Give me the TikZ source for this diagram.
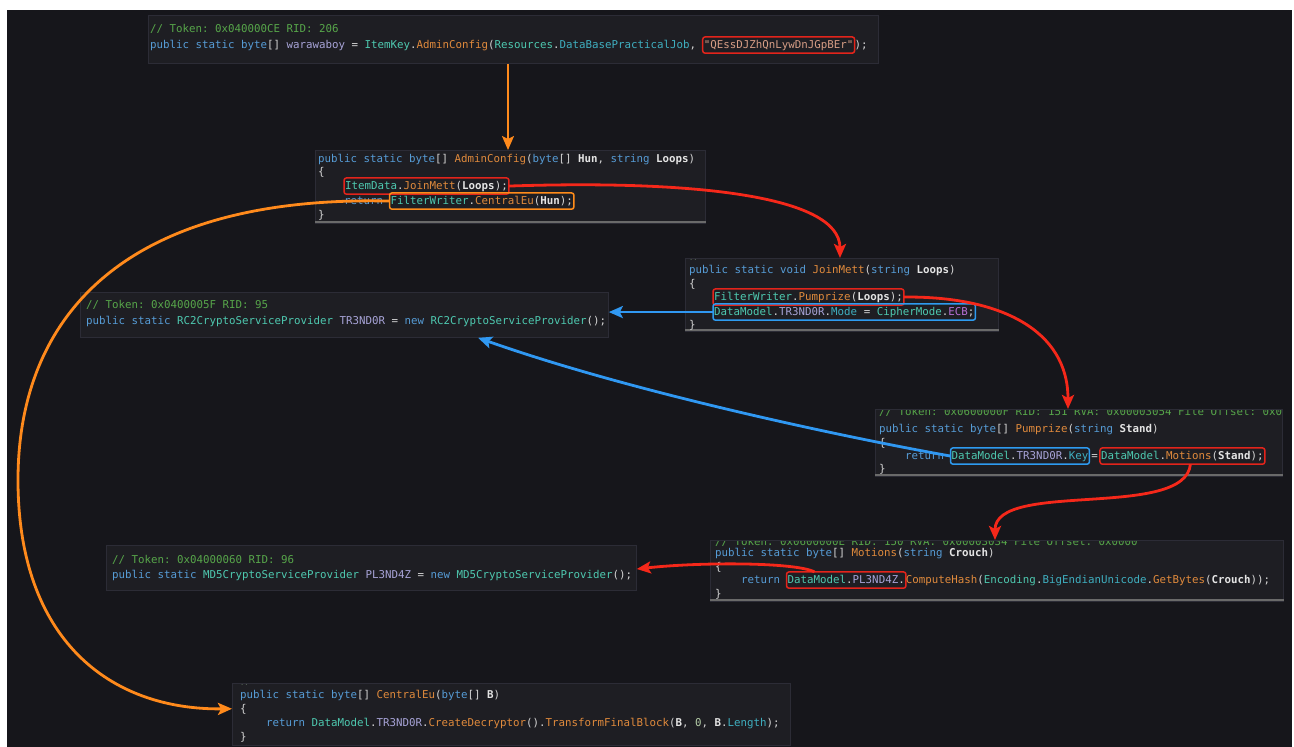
\documentclass[tikz,border=0pt]{standalone}
\usepackage{fontspec}
\usetikzlibrary{arrows.meta}
\newfontfamily\codefont{DejaVu Sans Mono}
\newcommand\cf{\codefont\fontsize{10.8}{13}\selectfont\frenchspacing}
\newcommand\csp{\kern0.602em}
\definecolor{bgc}{HTML}{16161B}
\definecolor{panelc}{HTML}{1E1E23}
\definecolor{panelb}{HTML}{2C2C36}
\definecolor{kw}{HTML}{569CD6}
\definecolor{ty}{HTML}{4EC9B0}
\definecolor{me}{HTML}{E08A3C}
\definecolor{fl}{HTML}{A8A4D8}
\definecolor{pr}{HTML}{3FAFC0}
\definecolor{pa}{HTML}{E4E4E4}
\definecolor{cm}{HTML}{57A64A}
\definecolor{st}{HTML}{D69D85}
\definecolor{nu}{HTML}{B5CEA8}
\definecolor{pu}{HTML}{D4D4D4}
\definecolor{en}{HTML}{B86FD6}
\definecolor{ul}{HTML}{6A6A6A}
\definecolor{dots}{HTML}{5A6A5A}
\definecolor{hlr}{HTML}{E3241B}
\definecolor{hlo}{HTML}{FF8C1A}
\definecolor{hlb}{HTML}{2E9BF0}
\definecolor{arred}{HTML}{F5281A}
\definecolor{arora}{HTML}{FF8A1C}
\definecolor{arblu}{HTML}{3098F2}
\newcommand\ckw[1]{\textcolor{kw}{#1}}
\newcommand\cty[1]{\textcolor{ty}{#1}}
\newcommand\cme[1]{\textcolor{me}{#1}}
\newcommand\cfl[1]{\textcolor{fl}{#1}}
\newcommand\cpr[1]{\textcolor{pr}{#1}}
\newcommand\cpa[1]{\textcolor{pa}{\bfseries #1}}
\newcommand\ccm[1]{\textcolor{cm}{#1}}
\newcommand\cnu[1]{\textcolor{nu}{#1}}
\newcommand\cen[1]{\textcolor{en}{#1}}
\tikzset{
  panel/.style={draw=panelb, fill=panelc, line width=0.8pt, anchor=north west, inner sep=0pt},
  code/.style={anchor=base west, inner sep=0pt, outer sep=0pt, text=pu, font=\cf},
  hl/.style={code, draw, line width=1.5pt, rounded corners=2.5pt, inner xsep=1.2pt, inner ysep=2.8pt, text height=8.3pt, text depth=2.4pt},
  uline/.style={draw=ul, line width=1.6pt},
  con/.style={line width=2.8pt, -{Stealth[length=14pt,width=12pt,inset=3pt]}},
  tinydots/.style={anchor=base west, inner sep=0pt, text=dots, font=\codefont\fontsize{7}{8}\selectfont}
}
\begin{document}
\begin{tikzpicture}[x=1pt,y=-1pt]
\useasboundingbox (0,0) rectangle (1294,747);
\fill[white] (0,0) rectangle (1294,747);
\fill[bgc] (7,10) rectangle (1292,747);

% panels
\node[panel, minimum width=730pt, minimum height=48pt] (p1) at (148,15) {};
\node[panel, minimum width=390pt, minimum height=73pt] (p2) at (315,150) {};
\node[panel, minimum width=313pt, minimum height=73pt] (p3) at (685,258) {};
\node[panel, minimum width=528pt, minimum height=45pt] (p4) at (80,292) {};
\node[panel, minimum width=407pt, minimum height=67pt] (p5) at (875,409) {};
\node[panel, minimum width=530pt, minimum height=45pt] (p6) at (106,545) {};
\node[panel, minimum width=573pt, minimum height=61pt] (p7) at (710,540) {};
\node[panel, minimum width=558pt, minimum height=62pt] (p8) at (232,683) {};

% underlines
\draw[uline] ([yshift=2pt]p2.south west) -- ([yshift=2pt]p2.south east);
\draw[uline] ([yshift=2pt]p3.south west) -- ([yshift=2pt]p3.south east);
\draw[uline] ([yshift=2pt]p5.south west) -- ([yshift=2pt]p5.south east);
\draw[uline] ([yshift=2pt]p7.south west) -- ([yshift=2pt]p7.south east);

% box 1
\node[code] (t1a) at (150,32) {\ccm{// Token: 0x040000CE RID: 206}};
\node[code] (t1b) at (150,48) {\ckw{public static byte}[] \cfl{warawaboy} = \cty{ItemKey}.\cme{AdminConfig}(\cty{Resources}.\cpr{DataBasePracticalJob},\csp};
\node[hl, draw=hlr, text=st] (h1) at (t1b.base east) {"QEssDJZhQnLywDnJGpBEr"};
\node[code] (t1c) at (h1.base east) {);};

% box 2
\node[code] (t2a) at (318,162) {\ckw{public static byte}[] \cme{AdminConfig}(\ckw{byte}[] \cpa{Hun}, \ckw{string} \cpa{Loops})};
\node[code] (t2b) at (318,175) {\{};
\node[hl, draw=hlr] (h2a) at (344,189) {\cty{ItemData}.\cme{JoinMett}(\cpa{Loops});};
\node[code] (t2c) at (344,204) {\ckw{return}\csp};
\node[hl, draw=hlo] (h2b) at (t2c.base east) {\cty{FilterWriter}.\cme{CentralEu}(\cpa{Hun});};
\node[code] (t2d) at (318,218) {\}};

% box 3
\node[tinydots] (d3) at (689,260) {..};
\node[code] (t3a) at (689,273) {\ckw{public static void} \cme{JoinMett}(\ckw{string} \cpa{Loops})};
\node[code] (t3b) at (689,287) {\{};
\node[hl, draw=hlr] (h3a) at (713,300) {\cty{FilterWriter}.\cme{Pumprize}(\cpa{Loops});};
\node[hl, draw=hlb] (h3b) at (713,315) {\cty{DataModel}.\cfl{TR3ND0R}.\cpr{Mode} = \cty{CipherMode}.\cen{ECB};};
\node[code] (t3c) at (689,328) {\}};

% box 4
\node[code] (t4a) at (86,308) {\ccm{// Token: 0x0400005F RID: 95}};
\node[code] (t4b) at (86,324) {\ckw{public static} \cty{RC2CryptoServiceProvider} \cfl{TR3ND0R} = \ckw{new} \cty{RC2CryptoServiceProvider}();};

% box 5
\begin{scope}
\clip (875,410) rectangle (1282,476);
\node[code] (t5z) at (879,415) {\ccm{// Token: 0x0600000F RID: 151 RVA: 0x00003054 File Offset: 0x0}};
\end{scope}
\node[code] (t5a) at (879,432) {\ckw{public static byte}[] \cme{Pumprize}(\ckw{string} \cpa{Stand})};
\node[code] (t5b) at (879,446) {\{};
\node[code] (t5c) at (905,459) {\ckw{return}\csp};
\node[hl, draw=hlb] (h5a) at (t5c.base east) {\cty{DataModel}.\cfl{TR3ND0R}.\cpr{Key}};
\node[code] (t5d) at ([xshift=2pt]h5a.base east) {=};
\node[hl, draw=hlr] (h5b) at ([xshift=2pt]t5d.base east) {\cty{DataModel}.\cme{Motions}(\cpa{Stand});};
\node[code] (t5e) at (879,472) {\}};

% box 6
\node[code] (t6a) at (112,563) {\ccm{// Token: 0x04000060 RID: 96}};
\node[code] (t6b) at (112,578) {\ckw{public static} \cty{MD5CryptoServiceProvider} \cfl{PL3ND4Z} = \ckw{new} \cty{MD5CryptoServiceProvider}();};

% box 7
\begin{scope}
\clip (710,541) rectangle (1283,601);
\node[code] (t7z) at (715,545) {\ccm{// Token: 0x0600000E RID: 150 RVA: 0x00003034 File Offset: 0x0000}};
\end{scope}
\node[code] (t7a) at (715,556) {\ckw{public static byte}[] \cme{Motions}(\ckw{string} \cpa{Crouch})};
\node[code] (t7b) at (715,570) {\{};
\node[code] (t7c) at (741,583) {\ckw{return}\csp};
\node[hl, draw=hlr] (h7a) at (t7c.base east) {\cty{DataModel}.\cfl{PL3ND4Z}.};
\node[code] (t7d) at (h7a.base east) {\cme{ComputeHash}(\cty{Encoding}.\cpr{BigEndianUnicode}.\cme{GetBytes}(\cpa{Crouch}));};
\node[code] (t7e) at (715,597) {\}};

% box 8
\node[tinydots] (d8) at (240,685) {..};
\node[code] (t8a) at (240,698) {\ckw{public static byte}[] \cme{CentralEu}(\ckw{byte}[] \cpa{B})};
\node[code] (t8b) at (240,712) {\{};
\node[code] (t8c) at (266,726) {\ckw{return} \cty{DataModel}.\cfl{TR3ND0R}.\cme{CreateDecryptor}().\cme{TransformFinalBlock}(\cpa{B}, \cnu{0}, \cpa{B}.\cpr{Length});};
\node[code] (t8d) at (240,740) {\}};

% connectors
\coordinate (oX) at (508,0);
\coordinate (rA) at (840,0);
\coordinate (rB) at (1068,0);
\coordinate (rC) at (478,0);
\coordinate (rD) at (995,0);
\coordinate (rE) at (0,569);

\draw[con, arora, line width=2pt] (p1.south -| oX) -- (p2.north -| oX);
\draw[con, arred] (h2a.east) .. controls (690,180) and (840,195) .. (p3.north -| rA);
\draw[con, arora] (h2b.west) .. controls (120,195) and (18,320) .. (18,480) .. controls (18,640) and (110,710) .. (p8.west |- t8b.west);
\draw[con, arblu] (h3b.west) -- (h3b.west -| p4.east);
\draw[con, arred] (h3a.east) .. controls (1000,296) and (1068,330) .. (p5.north -| rB);
\draw[con, arblu] (h5a.west) .. controls (860,440) and (640,395) .. (p4.south -| rC);
\draw[con, arred] ([xshift=8pt]h5b.south) .. controls (1185,520) and (995,480) .. (p7.north -| rD);
\draw[con, arred] ([xshift=28pt]h7a.north west) .. controls (795,562) and (700,562) .. (p6.east |- rE);
\end{tikzpicture}
\end{document}
